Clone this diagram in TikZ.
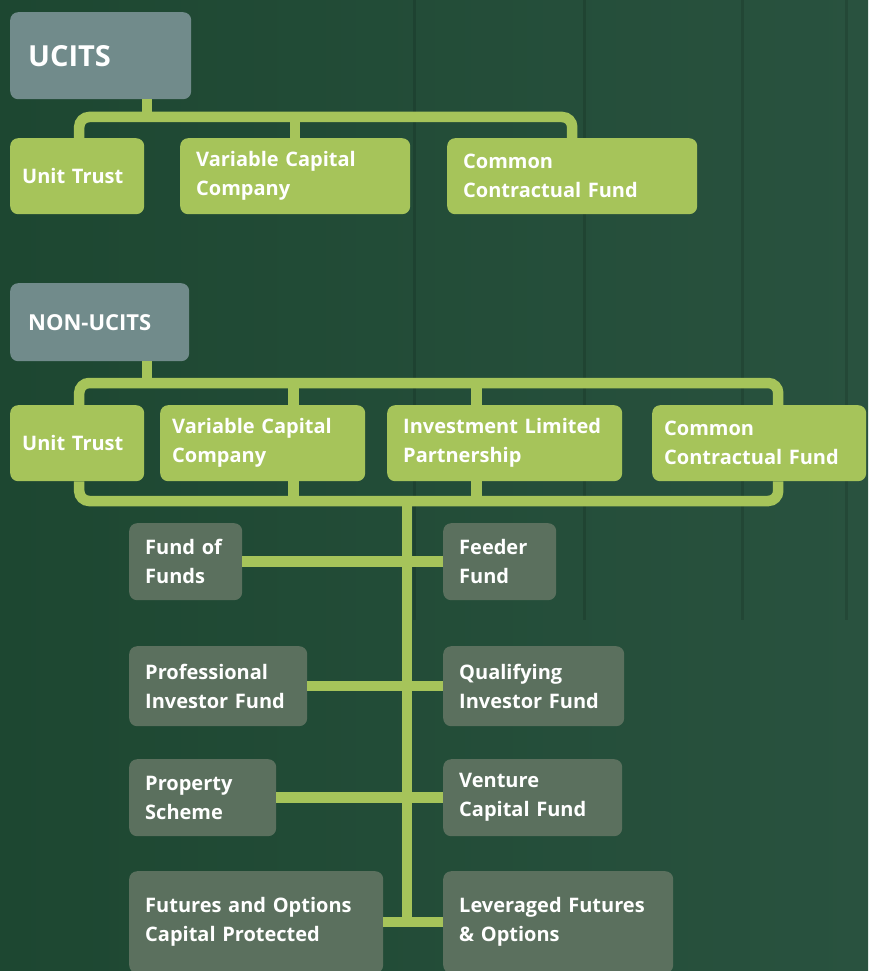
\documentclass[tikz,border=0pt]{standalone}
\usepackage{fontspec}
\setmainfont{Open Sans}
\usetikzlibrary{positioning}

\definecolor{leaf}{HTML}{A6C45A}
\definecolor{slate}{HTML}{718B8B}
\definecolor{moss}{HTML}{5B705E}
\definecolor{pine}{HTML}{1D4731}
\definecolor{pinelight}{HTML}{29523F}

\begin{document}
\begin{tikzpicture}[
    x=1pt, y=-1pt,
    % GLOBAL CFG
    font=\bfseries\fontsize{20}{29}\selectfont,
    % Styles
    box/.style={% For every box
        rectangle,
        rounded corners=8pt,
        anchor=north west,
        text=white,
        align=left,
        inner xsep=16pt,
        inner ysep=0pt,
        },
    head/.style={% For UCITS and NON-UCITS
        box,
        fill=slate,
        },
    main/.style={% For the legal structures
        box,
        fill=leaf,
        minimum height=76pt,
        },
    sub/.style={% For the fund types
        box,
        fill=moss,
        },
    link/.style={% Green connectors
        draw=leaf,
        line width=10.5pt,
        rounded corners=10pt,
        },
    ]

    \useasboundingbox (0,0) rectangle (868,971);
    \clip (0,0) rectangle (868,971);

    % Background
    \shade[left color=pine, right color=pinelight] (0,0) rectangle (868,971);
    \foreach \xx in {414,584,742,846}
        \draw[black, opacity=0.12, line width=3pt] (\xx,0) -- (\xx,620);

    % Draw UCITS part
    \node[head, minimum width=179pt, minimum height=87pt, text width=145pt,
        inner xsep=18pt, font=\bfseries\fontsize{29}{34}\selectfont]
        (ucits) at (10,12) {UCITS};
    \node[main, minimum width=134pt, text width=110pt, inner xsep=12pt] (ut_a) at (10,138) {Unit Trust};
    \node[main, minimum width=230pt, text width=198pt] (vcc_a) at (180,138) {Variable Capital\\Company};
    \node[main, minimum width=250pt, text width=218pt] (ccf_a) at (447,138) {Common\\Contractual Fund};

    % Draw NON-UCITS part
    \node[head, minimum width=179pt, minimum height=78pt, text width=143pt,
        inner xsep=18pt, font=\bfseries\fontsize{22}{29}\selectfont]
        (nonucits) at (10,283) {NON-UCITS};
    \node[main, minimum width=134pt, text width=110pt, inner xsep=12pt] (ut_b) at (10,405) {Unit Trust};
    \node[main, minimum width=205pt, text width=181pt, inner xsep=12pt] (vcc_b) at (160,405) {Variable Capital\\Company};
    \node[main, minimum width=235pt, text width=203pt] (ilp_b) at (387,405) {Investment Limited\\Partnership};
    \node[main, minimum width=214pt, text width=190pt, inner xsep=12pt] (ccf_b) at (652,405) {Common\\Contractual Fund};

    % Draw fund types
    \node[sub, minimum width=113pt, minimum height=77pt, text width=81pt] (fof) at (129,523) {Fund of\\Funds};
    \node[sub, minimum width=113pt, minimum height=77pt, text width=81pt] (feeder) at (443,523) {Feeder\\Fund};
    \node[sub, minimum width=178pt, minimum height=80pt, text width=146pt] (pif) at (129,646) {Professional\\Investor Fund};
    \node[sub, minimum width=181pt, minimum height=80pt, text width=149pt] (qif) at (443,646) {Qualifying\\Investor Fund};
    \node[sub, minimum width=147pt, minimum height=77pt, text width=115pt] (prop) at (129,759) {Property\\Scheme};
    \node[sub, minimum width=179pt, minimum height=77pt, text width=147pt] (vcf) at (443,759) {Venture\\Capital Fund};
    \node[sub, minimum width=254pt, minimum height=102pt, text width=222pt] (fop) at (129,871) {Futures and Options\\Capital Protected};
    \node[sub, minimum width=230pt, minimum height=102pt, text width=198pt] (lfo) at (443,871) {Leveraged Futures\\\& Options};

    % Bars
    \coordinate (bar_a) at (147,117);
    \coordinate (top_b) at (147,383);
    \coordinate (low_b) at (407,501);

    % UCITS connectors
    \draw[link] (ucits.south -| bar_a) -- (bar_a);
    \draw[link] ([xshift=2pt]ut_a.north) |- (bar_a) -| (ccf_a.north);
    \draw[link] (vcc_a.north) -- (vcc_a.north |- bar_a);

    % NON-UCITS connectors
    \draw[link] (nonucits.south -| top_b) -- (top_b);
    \draw[link] ([xshift=2pt]ut_b.north) |- (top_b) -| ([xshift=19pt]ccf_b.north);
    \draw[link] ([xshift=31pt]vcc_b.north) -- ([xshift=31pt]vcc_b.north |- top_b);
    \draw[link] ([xshift=-28pt]ilp_b.north) -- ([xshift=-28pt]ilp_b.north |- top_b);
    \draw[link] ([xshift=2pt]ut_b.south) |- (low_b) -| ([xshift=19pt]ccf_b.south);
    \draw[link] ([xshift=31pt]vcc_b.south) -- ([xshift=31pt]vcc_b.south |- low_b);
    \draw[link] ([xshift=-28pt]ilp_b.south) -- ([xshift=-28pt]ilp_b.south |- low_b);

    % Trunk and fund types
    \draw[link] (low_b) -- (low_b |- fop.east);
    \draw[link] (fof.east) -- (feeder.west);
    \draw[link] (pif.east) -- (qif.west);
    \draw[link] (prop.east) -- (vcf.west);
    \draw[link] (fop.east) -- (lfo.west);

\end{tikzpicture}
\end{document}
